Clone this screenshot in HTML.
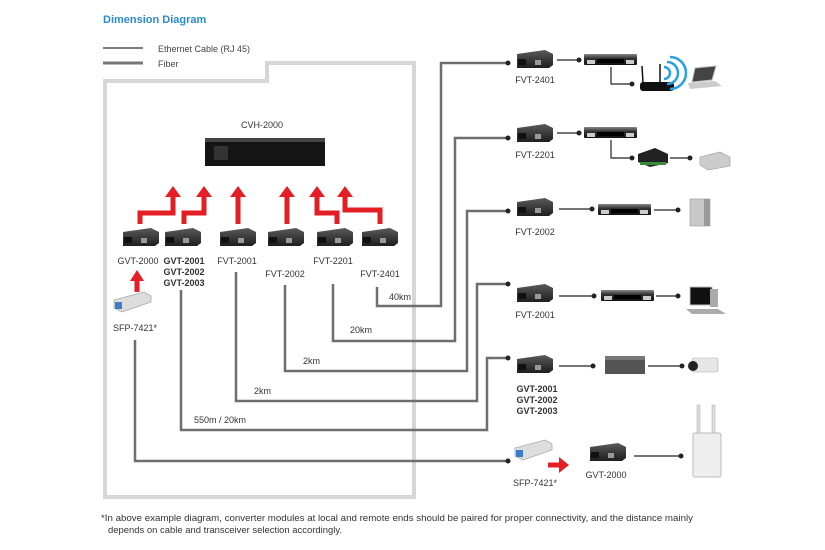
<!DOCTYPE html>
<html><head><meta charset="utf-8"><style>
html,body{margin:0;padding:0;background:#fff;}
svg{display:block;font-family:"Liberation Sans",sans-serif;}
</style></head><body>
<svg width="825" height="550" viewBox="0 0 825 550" xmlns="http://www.w3.org/2000/svg">
<defs>
<linearGradient id="mod" x1="0" y1="0" x2="0" y2="1"><stop offset="0" stop-color="#5a5a5a"/><stop offset="1" stop-color="#1e1e1e"/></linearGradient>
<linearGradient id="sw" x1="0" y1="0" x2="0" y2="1"><stop offset="0" stop-color="#888"/><stop offset="0.4" stop-color="#333"/><stop offset="1" stop-color="#111"/></linearGradient>
<g id="m"><path d="M2 4 L30 0 L38 4 L38 15 L34 18 L2 18 Z" fill="url(#mod)"/><rect x="3" y="9" width="8" height="6" fill="#111"/><rect x="20" y="10" width="6" height="5" fill="#999"/></g>
<g id="s"><rect x="0" y="0" width="53" height="11" rx="1" fill="url(#sw)"/><rect x="3" y="6" width="8" height="4" fill="#ccc"/><rect x="42" y="6" width="8" height="4" fill="#ccc"/><rect x="13" y="5" width="27" height="4" fill="#000"/></g>
<g id="sfp"><path d="M0 8 L30 0 L37 4 L37 10 L8 20 L0 16 Z" fill="#ddd" stroke="#aaa" stroke-width="0.8"/><rect x="1" y="10" width="7" height="7" fill="#3a7dc8"/></g>
</defs>

<text x="103" y="23" font-size="11" font-weight="bold" fill="#2a8ad0">Dimension Diagram</text>
<line x1="103" y1="48" x2="143" y2="48" stroke="#333" stroke-width="1.2"/>
<line x1="103" y1="63" x2="143" y2="63" stroke="#777" stroke-width="3"/>
<text x="158" y="52" font-size="9" fill="#444">Ethernet Cable (RJ 45)</text>
<text x="158" y="67" font-size="9" fill="#444">Fiber</text>

<path d="M105 497 L105 81 L267 81 L267 63 L414 63 L414 497 Z" fill="none" stroke="#d6d6d6" stroke-width="4"/>

<text x="262" y="128" font-size="9" fill="#333" text-anchor="middle">CVH-2000</text>
<rect x="205" y="140" width="120" height="26" fill="#151515"/>
<rect x="205" y="138" width="120" height="4" fill="#444"/>
<rect x="214" y="146" width="14" height="14" fill="#333"/>

<g fill="none" stroke="#e31e24" stroke-width="5">
<path d="M140 224 V213 H173 V196"/><path d="M184 224 V213 H204 V196"/>
<path d="M238 224 V196"/><path d="M287 224 V196"/>
<path d="M337 224 V213 H317 V196"/><path d="M380 224 V210 H345 V196"/>
<path d="M137 292 V280"/>
<path d="M548 465 H560"/>
</g>
<g fill="#e31e24">
<path d="M165 197 L173 186 L181 197Z"/><path d="M196 197 L204 186 L212 197Z"/>
<path d="M230 197 L238 186 L246 197Z"/><path d="M279 197 L287 186 L295 197Z"/>
<path d="M309 197 L317 186 L325 197Z"/><path d="M337 197 L345 186 L353 197Z"/>
<path d="M130 281 L137 270 L144 281Z"/>
<path d="M559 457 L569 465 L559 473Z"/>
</g>

<use href="#m" x="121" y="228"/><use href="#m" x="163" y="228"/><use href="#m" x="218" y="228"/>
<use href="#m" x="266" y="228"/><use href="#m" x="315" y="228"/><use href="#m" x="360" y="228"/>
<g font-size="9" fill="#333" text-anchor="middle">
<text x="138" y="264">GVT-2000</text>
<text x="184" y="264" font-weight="bold">GVT-2001</text><text x="184" y="275" font-weight="bold">GVT-2002</text><text x="184" y="286" font-weight="bold">GVT-2003</text>
<text x="237" y="264">FVT-2001</text><text x="285" y="277">FVT-2002</text>
<text x="333" y="264">FVT-2201</text><text x="380" y="277">FVT-2401</text>
<text x="135" y="331">SFP-7421*</text>
</g>
<use href="#sfp" x="114" y="292"/>

<g fill="none" stroke="#6e6e6e" stroke-width="2.5">
<path d="M377 287 V306 H441 V63 H508"/>
<path d="M333 284 V341 H455 V138 H508"/>
<path d="M285 285 V371 H467 V211 H508"/>
<path d="M236 272 V401 H477 V284 H508"/>
<path d="M181 290 V430 H487 V358 H508"/>
<path d="M135 340 V461 H508"/>
</g>
<g font-size="9" fill="#333">
<text x="389" y="300">40km</text><text x="350" y="333">20km</text><text x="303" y="364">2km</text>
<text x="254" y="394">2km</text><text x="194" y="423">550m / 20km</text>
</g>
<g fill="#222"><circle cx="508" cy="63" r="2.5"/><circle cx="508" cy="138" r="2.5"/><circle cx="508" cy="211" r="2.5"/><circle cx="508" cy="284" r="2.5"/><circle cx="508" cy="358" r="2.5"/><circle cx="508" cy="461" r="2.5"/></g>

<use href="#m" x="515" y="50"/><use href="#m" x="515" y="124"/><use href="#m" x="515" y="198"/>
<use href="#m" x="515" y="284"/><use href="#m" x="515" y="355"/><use href="#sfp" x="515" y="440"/><use href="#m" x="588" y="443"/>
<g font-size="9" fill="#333" text-anchor="middle">
<text x="535" y="83">FVT-2401</text><text x="535" y="158">FVT-2201</text><text x="535" y="235">FVT-2002</text>
<text x="535" y="318">FVT-2001</text>
<text x="537" y="392" font-weight="bold">GVT-2001</text><text x="537" y="403" font-weight="bold">GVT-2002</text><text x="537" y="414" font-weight="bold">GVT-2003</text>
<text x="535" y="486">SFP-7421*</text><text x="606" y="478">GVT-2000</text>
</g>

<g stroke="#222" stroke-width="1.2" fill="none">
<path d="M557 60 H579"/><path d="M611 67 V84 H632"/>
<path d="M557 133 H579"/><path d="M611 140 V158 H632"/><path d="M670 158 H690"/>
<path d="M559 209 H592"/><path d="M654 210 H678"/>
<path d="M559 296 H594"/><path d="M656 296 H678"/>
<path d="M559 366 H593"/><path d="M648 366 H682"/>
<path d="M634 456 H681"/>
</g>
<g fill="#222"><circle cx="579" cy="60" r="2.5"/><circle cx="632" cy="84" r="2.5"/><circle cx="579" cy="133" r="2.5"/><circle cx="632" cy="158" r="2.5"/><circle cx="690" cy="158" r="2.5"/>
<circle cx="592" cy="209" r="2.5"/><circle cx="678" cy="210" r="2.5"/><circle cx="594" cy="296" r="2.5"/><circle cx="678" cy="296" r="2.5"/>
<circle cx="593" cy="366" r="2.5"/><circle cx="682" cy="366" r="2.5"/><circle cx="681" cy="456" r="2.5"/></g>

<use href="#s" x="584" y="54"/><use href="#s" x="584" y="127"/><use href="#s" x="598" y="204"/><use href="#s" x="601" y="290"/>
<rect x="640" y="82" width="34" height="9" rx="3" fill="#111"/>
<line x1="643" y1="83" x2="642" y2="66" stroke="#111" stroke-width="1.5"/><line x1="660" y1="83" x2="660" y2="64" stroke="#111" stroke-width="1.5"/>
<g fill="none" stroke="#2aa0e0" stroke-width="2.5"><path d="M664 67 A6 6 0 0 1 664 79"/><path d="M667 62 A11 11 0 0 1 667 84"/><path d="M670 57 A16 16 0 0 1 670 89"/></g>
<path d="M695 68 L716 66 L712 80 L692 82Z" fill="#444" stroke="#bbb"/><path d="M688 83 L715 81 L722 86 L690 89Z" fill="#ccc"/>
<path d="M638 154 L655 148 L668 154 L668 163 L650 167 L638 162Z" fill="#222"/><rect x="640" y="162" width="26" height="3" fill="#3a8a3a"/>
<path d="M700 157 L720 152 L730 157 L730 166 L708 170 L700 165Z" fill="#ccc" stroke="#999" stroke-width="0.6"/>
<rect x="690" y="199" width="20" height="27" fill="#c8c8c8" stroke="#999" stroke-width="0.6"/><rect x="704" y="199" width="6" height="27" fill="#999"/>
<rect x="690" y="287" width="22" height="18" fill="#111" stroke="#bbb"/><rect x="710" y="289" width="8" height="18" fill="#aaa"/><path d="M686 309 L718 309 L726 314 L692 314Z" fill="#aaa"/>
<rect x="605" y="356" width="40" height="18" fill="#555"/><rect x="605" y="356" width="40" height="4" fill="#777"/>
<rect x="692" y="358" width="26" height="14" rx="2" fill="#e6e6e6" stroke="#aaa" stroke-width="0.6"/><circle cx="693" cy="366" r="5" fill="#222"/>
<rect x="697" y="405" width="3" height="30" fill="#ddd" stroke="#aaa" stroke-width="0.5"/><rect x="712" y="405" width="3" height="30" fill="#ddd" stroke="#aaa" stroke-width="0.5"/>
<rect x="693" y="433" width="28" height="44" rx="2" fill="#eee" stroke="#bbb"/>

<g font-size="9.6" fill="#333">
<text x="101" y="521" textLength="592" lengthAdjust="spacingAndGlyphs">*In above example diagram, converter modules at local and remote ends should be paired for proper connectivity, and the distance mainly</text>
<text x="108" y="533" textLength="234" lengthAdjust="spacingAndGlyphs">depends on cable and transceiver selection accordingly.</text>
</g>
</svg>
</body></html>
